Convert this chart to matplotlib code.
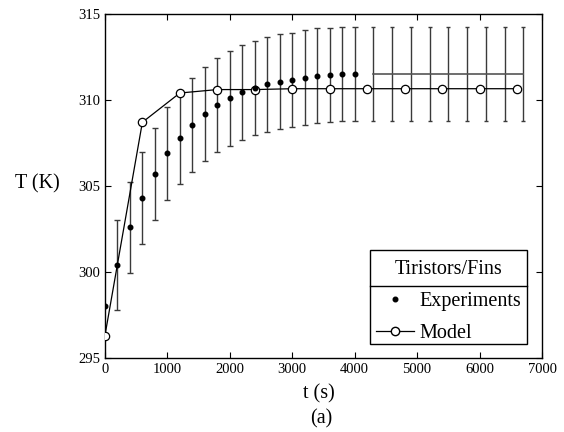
import matplotlib
matplotlib.use("Agg")
import matplotlib.pyplot as plt
from matplotlib.lines import Line2D
from matplotlib.patches import Rectangle

plt.rcParams["font.family"] = ["Liberation Serif", "DejaVu Serif"]

# measured temperatures (mean and half-width of scatter)
t_exp = [0, 200, 400, 600, 800, 1000, 1200, 1400, 1600, 1800, 2000,
         2200, 2400, 2600, 2800, 3000, 3200, 3400, 3600, 3800, 4000]
T_exp = [298.0, 300.4, 302.6, 304.3, 305.7, 306.9, 307.8, 308.55, 309.2, 309.7, 310.1,
         310.45, 310.7, 310.9, 311.05, 311.15, 311.3, 311.4, 311.45, 311.5, 311.5]
T_err = [None, 2.6, 2.65, 2.67, 2.67, 2.7, 2.7, 2.74, 2.74, 2.75, 2.75,
         2.76, 2.75, 2.75, 2.75, 2.75, 2.75, 2.75, 2.75, 2.75, 2.75]

# steady-state band after 4000 s
t_ss = [4300, 4600, 4900, 5200, 5500, 5800, 6100, 6400, 6700]
T_ss = [311.5] * 9
T_ss_err = [2.75] * 9

# model prediction
t_mod = [0, 600, 1200, 1800, 2400, 3000, 3600, 4200, 4800, 5400, 6000, 6600]
T_mod = [296.3, 308.7, 310.4, 310.6, 310.6, 310.65, 310.65, 310.65, 310.65,
         310.65, 310.65, 310.65]

fig = plt.figure(figsize=(5.64, 4.32), dpi=100)
ax = fig.add_axes([0.186, 0.171, 0.775, 0.797])

ebar_color = "#3a3a3a"
err_t = [t for t, e in zip(t_exp, T_err) if e is not None]
err_T = [T for T, e in zip(T_exp, T_err) if e is not None]
err_v = [e for e in T_err if e is not None]
ax.errorbar(err_t, err_T, yerr=err_v, fmt="none", ecolor=ebar_color,
            elinewidth=1.0, capsize=2, capthick=1.0, zorder=2)
ax.errorbar(t_ss, T_ss, yerr=T_ss_err, fmt="-", color="#555555", lw=1.2,
            ecolor=ebar_color, elinewidth=1.0, capsize=1.5, capthick=1.0, zorder=2)

ax.plot(t_mod, T_mod, "-o", color="black", lw=0.9, markersize=6,
        markerfacecolor="white", markeredgewidth=0.9, zorder=3)
ax.plot(t_exp, T_exp, "o", color="black", markersize=3.3, zorder=4)

ax.set_xlim(0, 7000)
ax.set_ylim(295, 315)
ax.set_xticks(range(0, 7001, 1000))
ax.set_yticks(range(295, 316, 5))
ax.tick_params(direction="in", top=True, right=True, labelsize=10.5, length=4)
for sp in ax.spines.values():
    sp.set_linewidth(1.0)

ax.set_xlabel("t (s)", fontsize=14.5, labelpad=5)
ax.xaxis.set_label_coords(0.49, -0.075)
ax.set_ylabel("T (K)", fontsize=14.5, rotation=0, va="center")
ax.yaxis.set_label_coords(-0.155, 0.505)
fig.text(0.57, 0.03, "(a)", fontsize=14.5, ha="center", va="center")

handles = [
    Line2D([], [], ls="none", marker="o", color="black", markersize=3.3),
    Line2D([], [], ls="-", marker="o", color="black", lw=0.9, markersize=6,
           markerfacecolor="white"),
]
leg = ax.legend(handles, ["Experiments", "Model"], title="Tiristors/Fins",
                loc="lower right", bbox_to_anchor=(0.966, 0.025), borderaxespad=0,
                fontsize=14.5, title_fontsize=14.5, frameon=False, borderpad=0.3,
                handlelength=1.9, handletextpad=0.25, labelspacing=0.65)

# legend box and divider under the title, drawn by hand
fig.canvas.draw()
bb = leg.get_window_extent()
tb = leg.get_title().get_window_extent()
texts = [t.get_window_extent() for t in leg.get_texts()]
title_cy = 0.5 * (tb.y0 + tb.y1)
last_cy = 0.5 * (texts[-1].y0 + texts[-1].y1)
top = title_cy + 20
bottom = last_cy - 10
y_div = 0.5 * (tb.y0 + texts[0].y1)
inv = fig.transFigure.inverted()
(x0, y0), (x1, y1) = inv.transform([(bb.x0, bottom), (bb.x1, top)])
_, yd = inv.transform((bb.x0, y_div))
fig.add_artist(Rectangle((x0, y0), x1 - x0, y1 - y0, facecolor="white",
                         edgecolor="black", lw=1.0, zorder=4))
fig.add_artist(Line2D([x0, x1], [yd, yd], color="black", lw=1.0, zorder=5))
leg.set_zorder(6)
leg.remove()
fig.add_artist(leg)

fig.savefig("out.png", dpi=100)
